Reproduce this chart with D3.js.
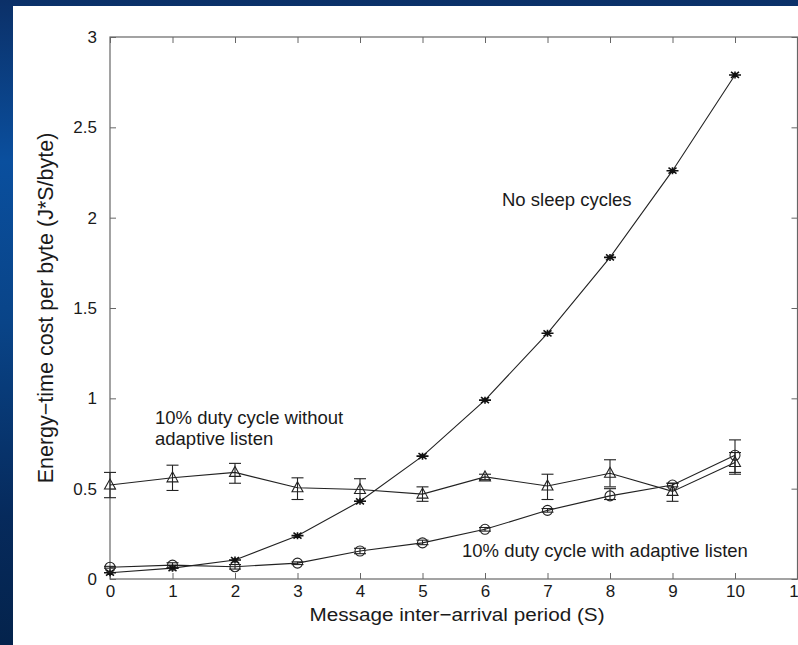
<!DOCTYPE html>
<meta charset="utf-8">
<style>
body { margin: 0; background: #0a3a78; }
text { font-family: "Liberation Sans", Arial, sans-serif; fill: #1a1a1a; }
.tick line { stroke: #666; }
</style>
<body>
<script src="https://cdn.jsdelivr.net/npm/d3@7"></script>
<script>

// message inter-arrival period (S)
var periods = [0, 1, 2, 3, 4, 5, 6, 7, 8, 9, 10];

// no sleep cycles
var noSleep = [0.035, 0.06, 0.105, 0.24, 0.43, 0.68, 0.99, 1.36, 1.78, 2.26, 2.79];

// 10% duty cycle without adaptive listen (mean, low, high)
var noAdaptive   = [0.52, 0.56, 0.59, 0.505, 0.495, 0.47, 0.565, 0.515, 0.585, 0.485, 0.645];
var noAdaptiveLo = [0.45, 0.49, 0.53, 0.44, 0.43, 0.43, 0.55, 0.44, 0.51, 0.43, 0.58];
var noAdaptiveHi = [0.59, 0.63, 0.64, 0.56, 0.555, 0.51, 0.58, 0.58, 0.66, 0.53, 0.70];

// 10% duty cycle with adaptive listen (mean, low, high)
var adaptive   = [0.065, 0.077, 0.068, 0.088, 0.155, 0.20, 0.275, 0.38, 0.46, 0.52, 0.685];
var adaptiveLo = [0.06, 0.06, 0.055, 0.08, 0.14, 0.19, 0.265, 0.37, 0.44, 0.51, 0.59];
var adaptiveHi = [0.07, 0.09, 0.08, 0.095, 0.17, 0.215, 0.285, 0.39, 0.50, 0.53, 0.77];

var xTicks = [0, 1, 2, 3, 4, 5, 6, 7, 8, 9, 10, 11];
var yTicks = [0, 0.5, 1, 1.5, 2, 2.5, 3];

var W = 798, H = 645;
var plotL = 110, plotR = 797.5, plotT = 37, plotB = 579;

var svg = d3.select("body").append("svg")
    .attr("width", W)
    .attr("height", H)
    .style("display", "block");

// slide background
var defs = svg.append("defs");
var grad = defs.append("linearGradient")
    .attr("id", "bg").attr("x1", 0).attr("y1", 0).attr("x2", 0).attr("y2", 1);
grad.append("stop").attr("offset", "0%").attr("stop-color", "#0b3068");
grad.append("stop").attr("offset", "25%").attr("stop-color", "#0a4f9e");
grad.append("stop").attr("offset", "50%").attr("stop-color", "#094488");
grad.append("stop").attr("offset", "80%").attr("stop-color", "#062a5c");
grad.append("stop").attr("offset", "100%").attr("stop-color", "#04234c");
svg.append("rect").attr("width", W).attr("height", H).attr("fill", "url(#bg)");

svg.append("rect")
    .attr("x", 13).attr("y", 6)
    .attr("width", W - 13).attr("height", H - 6)
    .attr("fill", "#fff");

var x = d3.scaleLinear().domain([0, 11]).range([plotL, plotR]);
var y = d3.scaleLinear().domain([0, 3]).range([plotB, plotT]);

// axes, ticks pointing inward like gnuplot
svg.append("g")
    .attr("transform", "translate(0," + plotB + ")")
    .call(d3.axisBottom(x).tickValues(xTicks).tickSizeInner(-6).tickSizeOuter(0).tickPadding(6).tickFormat(d3.format("d")))
    .call(function(g) { g.select(".domain").remove(); })
    .selectAll("text").style("font-size", "17px").attr("fill", "#1a1a1a");

svg.append("g")
    .attr("transform", "translate(0," + plotT + ")")
    .call(d3.axisTop(x).tickValues(xTicks).tickSizeInner(-6).tickSizeOuter(0).tickFormat(""))
    .call(function(g) { g.select(".domain").remove(); });

svg.append("g")
    .attr("transform", "translate(" + plotL + ",0)")
    .call(d3.axisLeft(y).tickValues(yTicks).tickSizeInner(-6).tickSizeOuter(0).tickPadding(13).tickFormat(d3.format("")))
    .call(function(g) { g.select(".domain").remove(); })
    .selectAll("text").style("font-size", "17px").attr("fill", "#1a1a1a");

svg.append("g")
    .attr("transform", "translate(" + plotR + ",0)")
    .call(d3.axisRight(y).tickValues(yTicks).tickSizeInner(-6).tickSizeOuter(0).tickFormat(""))
    .call(function(g) { g.select(".domain").remove(); });

svg.append("rect")
    .attr("x", plotL).attr("y", plotT)
    .attr("width", plotR - plotL).attr("height", plotB - plotT)
    .attr("fill", "none").attr("stroke", "#666").attr("stroke-width", 1.2);

// axis titles (the source figure is stretched a little horizontally)
svg.append("text")
    .attr("transform", "translate(457,621) scale(1.12,1)")
    .attr("text-anchor", "middle")
    .style("font-size", "18.5px")
    .text("Message inter\u2212arrival period (S)");

svg.append("text")
    .attr("transform", "translate(53,308) rotate(-90)")
    .attr("text-anchor", "middle")
    .style("font-size", "21.5px")
    .text("Energy\u2212time cost per byte (J*S/byte)");

// series
var line = d3.line()
    .x(function(d) { return x(d[0]); })
    .y(function(d) { return y(d[1]); });

function pts(vals) { return periods.map(function(p, i) { return [p, vals[i]]; }); }

function drawErr(lo, hi) {
  var g = svg.append("g").attr("stroke", "#222").attr("stroke-width", 1.1);
  periods.forEach(function(p, i) {
    var cx = x(p);
    g.append("line").attr("x1", cx).attr("x2", cx).attr("y1", y(lo[i])).attr("y2", y(hi[i]));
    g.append("line").attr("x1", cx - 6).attr("x2", cx + 6).attr("y1", y(lo[i])).attr("y2", y(lo[i]));
    g.append("line").attr("x1", cx - 6).attr("x2", cx + 6).attr("y1", y(hi[i])).attr("y2", y(hi[i]));
  });
}

[noSleep, noAdaptive, adaptive].forEach(function(vals) {
  svg.append("path")
      .datum(pts(vals))
      .attr("d", line)
      .attr("fill", "none")
      .attr("stroke", "#222")
      .attr("stroke-width", 1.1);
});

drawErr(noAdaptiveLo, noAdaptiveHi);
drawErr(adaptiveLo, adaptiveHi);

// markers
svg.append("g").selectAll("path")
    .data(pts(noSleep))
  .enter().append("path")
    .attr("transform", function(d) { return "translate(" + x(d[0]) + "," + y(d[1]) + ")"; })
    .attr("d", "M-6,0H6M0,-3.5V3.5M-4,-3L4,3M-4,3L4,-3")
    .attr("stroke", "#111").attr("stroke-width", 1.6).attr("fill", "none");

svg.append("g").selectAll("path")
    .data(pts(noAdaptive))
  .enter().append("path")
    .attr("transform", function(d) { return "translate(" + x(d[0]) + "," + y(d[1]) + ")"; })
    .attr("d", "M0,-6L5.5,4L-5.5,4Z")
    .attr("stroke", "#222").attr("stroke-width", 1.1).attr("fill", "none");

svg.append("g").selectAll("circle")
    .data(pts(adaptive))
  .enter().append("circle")
    .attr("cx", function(d) { return x(d[0]); })
    .attr("cy", function(d) { return y(d[1]); })
    .attr("r", 5)
    .attr("stroke", "#222").attr("stroke-width", 1.1).attr("fill", "none");

// curve labels
svg.append("text").attr("x", 502).attr("y", 206).style("font-size", "18.5px").text("No sleep cycles");
svg.append("text").attr("x", 155).attr("y", 424).style("font-size", "18.5px").text("10% duty cycle without");
svg.append("text").attr("x", 155).attr("y", 445).style("font-size", "18.5px").text("adaptive listen");
svg.append("text").attr("x", 462).attr("y", 557).style("font-size", "18.5px").text("10% duty cycle with adaptive listen");

</script>
</body>
